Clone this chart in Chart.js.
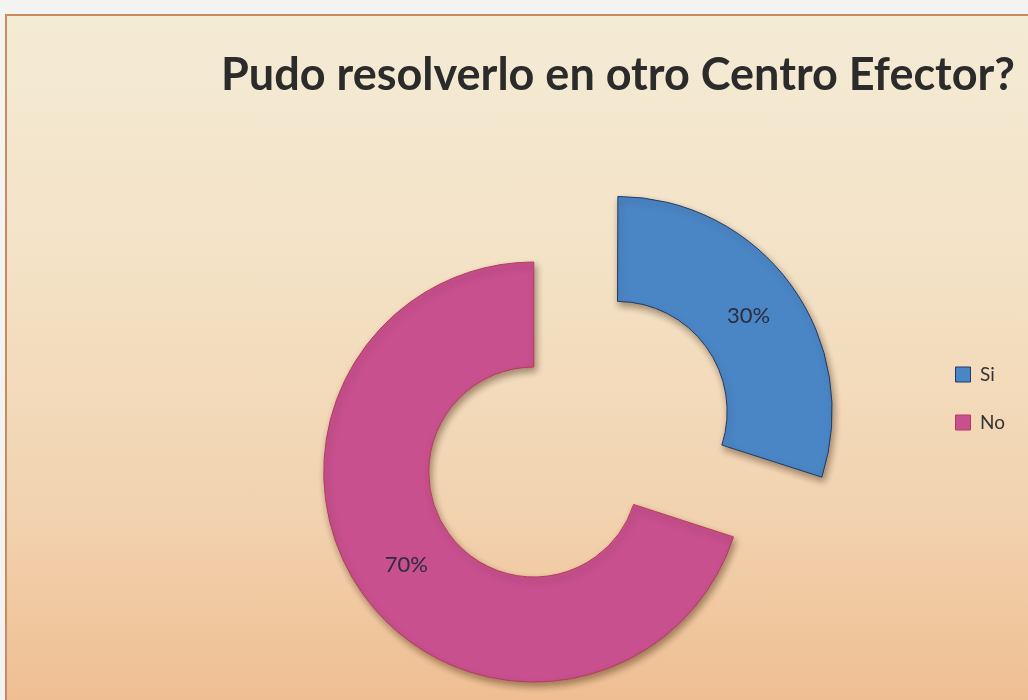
<!DOCTYPE html>
<html>
<head>
<meta charset="utf-8">
<script src="https://cdn.jsdelivr.net/npm/chart.js@4/dist/chart.umd.min.js"></script>
<style>
  html, body { margin: 0; padding: 0; overflow: hidden; background: #f3f4f2; }
  #marco {
    position: absolute; left: 5px; top: 14px; width: 1040px; height: 700px;
    border-left: 2px solid #c98a60; border-top: 2px solid #c98a60;
    background: linear-gradient(to bottom, #f4ebd5 0%, #f3e2c6 35%, #f2d3b0 70%, #efbd90 100%);
  }
  #grafico { position: absolute; left: 0; top: 0; }
</style>
</head>
<body>
<div id="marco"></div>
<canvas id="grafico" width="1028" height="700"></canvas>
<script>
const categorias = ['Si', 'No'];
const valores = [30, 70];
const titulo = 'Pudo resolverlo en otro Centro Efector?';

const colores = ['#4a86c6', '#c8508f'];
const bordes = ['#1f3a66', '#b83a5a'];
const separacion = [412, 0];

// sombra debajo de los sectores
const sombra = {
    id: 'sombra',
    beforeDatasetDraw(chart) {
        const ctx = chart.ctx;
        ctx.save();
        ctx.shadowColor = 'rgba(60, 30, 10, 0.45)';
        ctx.shadowBlur = 7;
        ctx.shadowOffsetX = 2;
        ctx.shadowOffsetY = 4;
    },
    afterDatasetDraw(chart) {
        chart.ctx.restore();
    }
};

// porcentajes en el centro del anillo
const etiquetas = {
    id: 'etiquetas',
    afterDatasetsDraw(chart) {
        const ctx = chart.ctx;
        const total = valores.reduce((a, b) => a + b, 0);
        chart.getDatasetMeta(0).data.forEach((arc, i) => {
            const p = arc.getProps(['x', 'y', 'startAngle', 'endAngle', 'innerRadius', 'outerRadius', 'circumference']);
            const off = (arc.options.offset || 0) / 4;
            const fix = 1 - Math.sin(Math.min(Math.PI, p.circumference));
            const desp = off + off * fix;
            const mid = (p.startAngle + p.endAngle) / 2;
            const r = (p.innerRadius + p.outerRadius) / 2 + desp;
            ctx.save();
            ctx.font = '22px Lato';
            ctx.fillStyle = '#2c2c3c';
            ctx.textAlign = 'center';
            ctx.textBaseline = 'middle';
            ctx.fillText(Math.round(valores[i] / total * 100) + '%', p.x + Math.cos(mid) * r, p.y + Math.sin(mid) * r);
            ctx.restore();
        });
    }
};

new Chart(document.getElementById('grafico'), {
    type: 'doughnut',
    data: {
        labels: categorias,
        datasets: [{
            data: valores,
            backgroundColor: colores,
            borderColor: bordes,
            borderWidth: 1,
            offset: separacion,
            hoverOffset: 0,
            clip: false
        }]
    },
    options: {
        responsive: false,
        animation: false,
        radius: 210,
        cutout: '50%',
        layout: { padding: { left: 141, right: 13, top: 0, bottom: 92 } },
        plugins: {
            title: {
                display: true,
                text: titulo,
                align: 'end',
                color: '#2b2b2b',
                font: { family: 'Lato, sans-serif', size: 45, weight: 'bold' },
                padding: { top: 48, bottom: 234 }
            },
            legend: {
                position: 'right',
                align: 'start',
                fullSize: false,
                labels: {
                    boxWidth: 15,
                    boxHeight: 15,
                    padding: 29,
                    color: '#333',
                    font: { family: 'Lato', size: 19 }
                }
            },
            tooltip: { enabled: false }
        }
    },
    plugins: [sombra, etiquetas]
});
</script>
</body>
</html>
